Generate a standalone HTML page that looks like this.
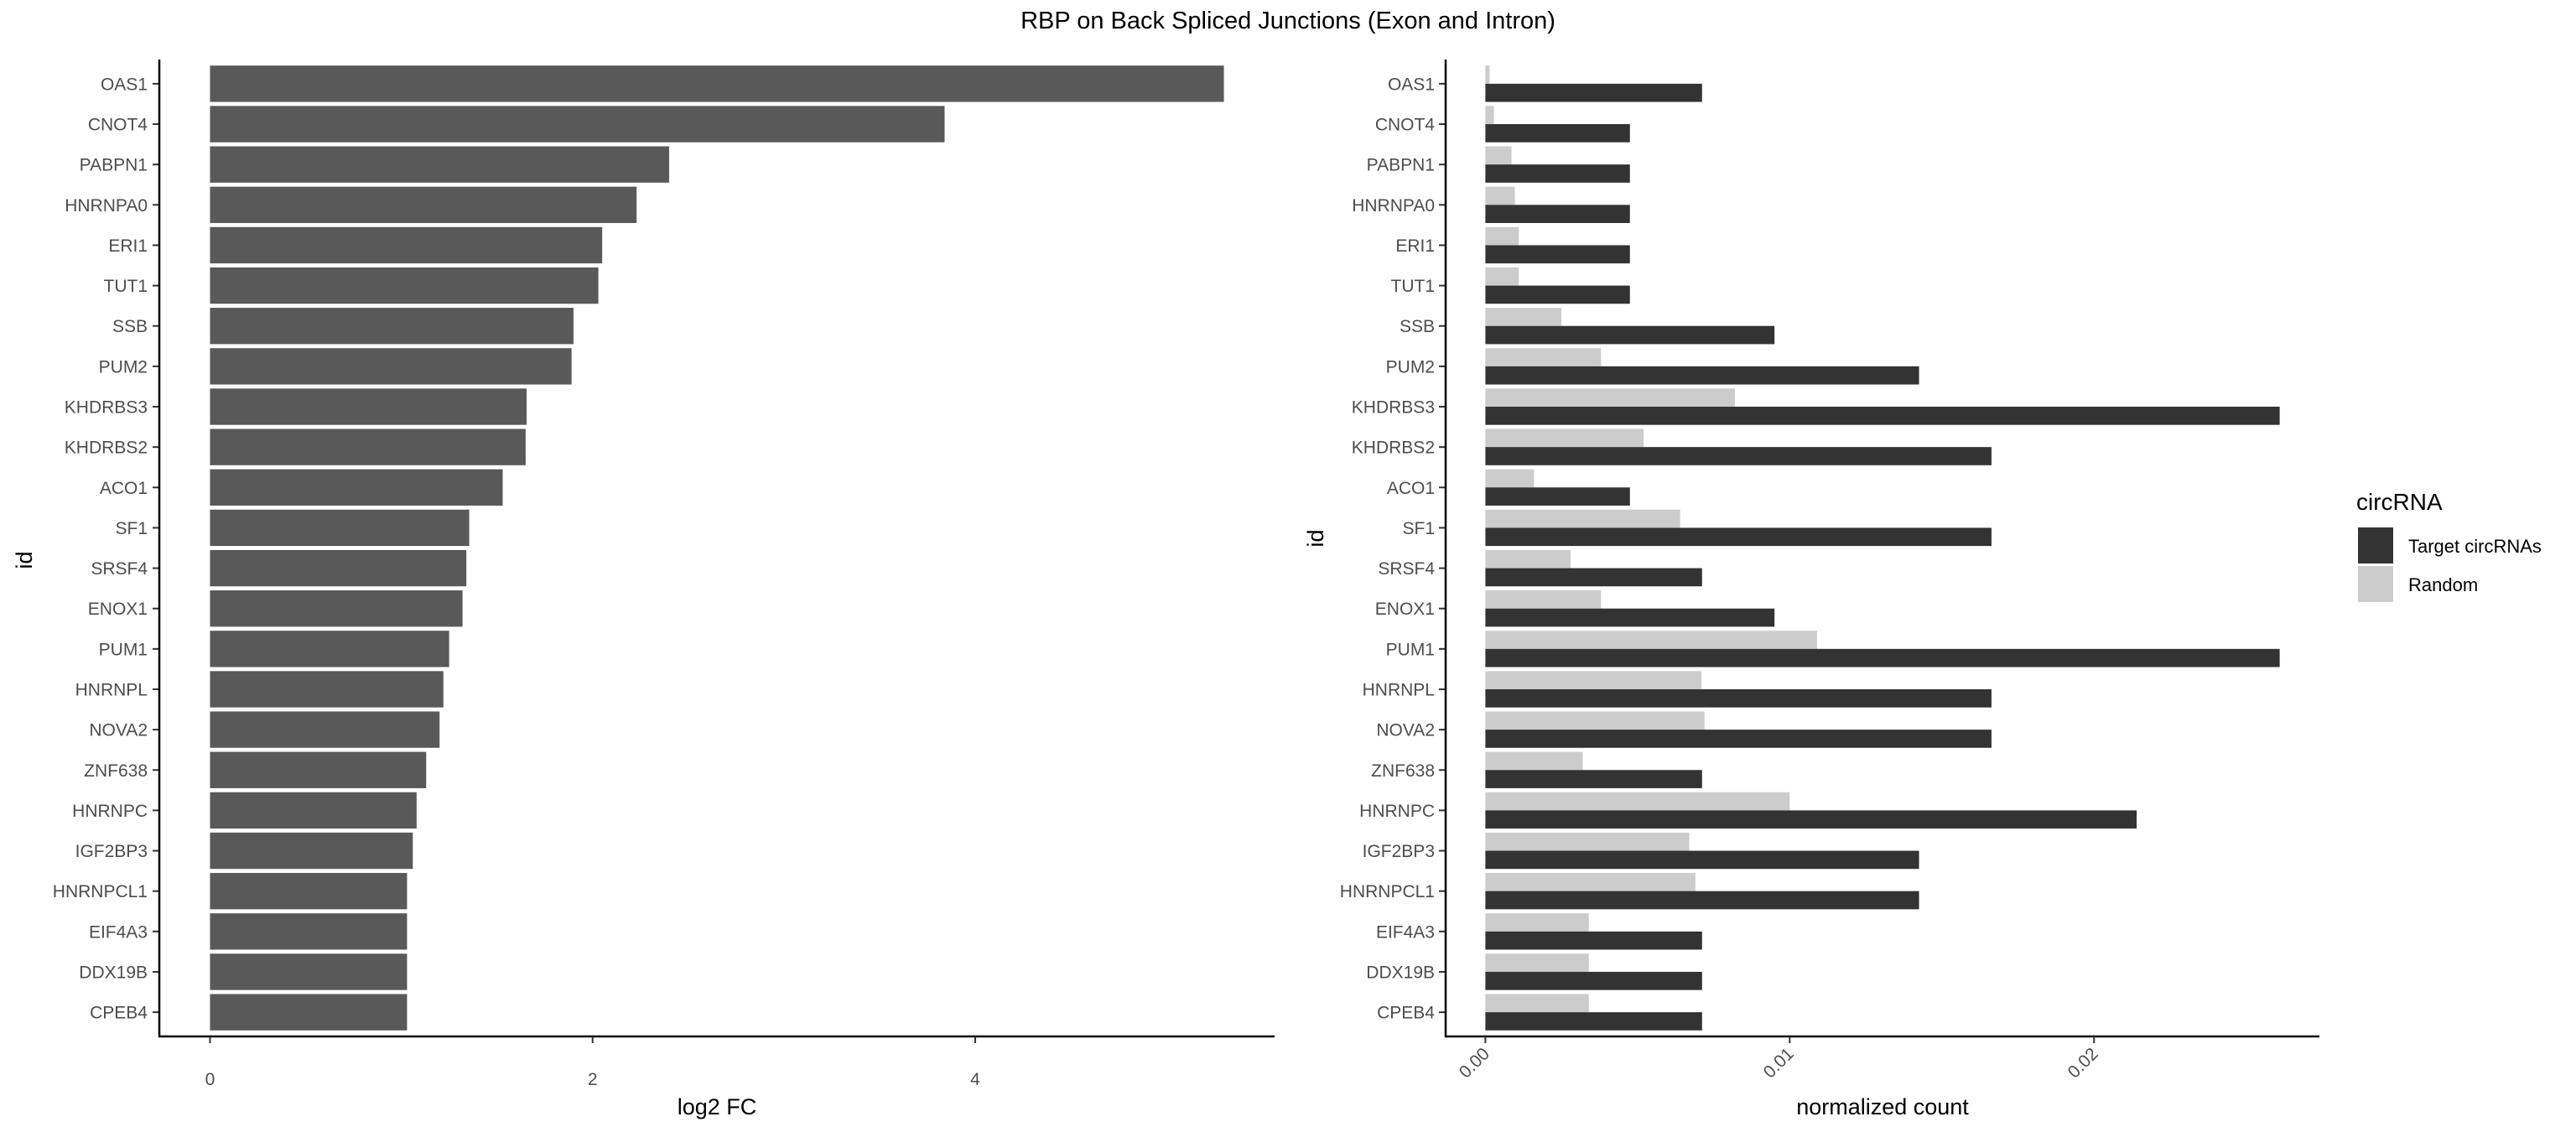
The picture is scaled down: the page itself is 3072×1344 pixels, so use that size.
<!DOCTYPE html>
<html><head><meta charset="utf-8"><style>
html,body{margin:0;padding:0;background:#fff}
svg{display:block;font-family:"Liberation Sans",sans-serif}
</style></head><body>
<svg id="chart" width="3072" height="1344" viewBox="0 0 3072 1344">
<text x="1536" y="34" text-anchor="middle" font-size="29" fill="#000">RBP on Back Spliced Junctions (Exon and Intron)</text>
<g id="left"></g>
<g id="right"></g>
<g>
<text x="2810" y="608" font-size="28" fill="#000">circRNA</text>
<rect x="2812" y="629" width="42" height="43" fill="#333333"/>
<text x="2872" y="659" font-size="22" fill="#000">Target circRNAs</text>
<rect x="2812" y="675" width="42" height="43" fill="#cccccc"/>
<text x="2872" y="705" font-size="22" fill="#000">Random</text>
</g>
</svg>
<script>
const categories=["OAS1","CNOT4","PABPN1","HNRNPA0","ERI1","TUT1","SSB","PUM2","KHDRBS3","KHDRBS2","ACO1","SF1","SRSF4","ENOX1","PUM1","HNRNPL","NOVA2","ZNF638","HNRNPC","IGF2BP3","HNRNPCL1","EIF4A3","DDX19B","CPEB4"];
const log2fc=[5.30,3.84,2.40,2.23,2.05,2.03,1.90,1.89,1.655,1.65,1.53,1.355,1.34,1.32,1.25,1.22,1.20,1.13,1.08,1.06,1.03,1.03,1.03,1.03];
const targetCount=[0.00712,0.00475,0.00475,0.00475,0.00475,0.00475,0.0095,0.01425,0.0261,0.01663,0.00475,0.01663,0.00712,0.0095,0.0261,0.01663,0.01663,0.00712,0.0214,0.01425,0.01425,0.00712,0.00712,0.00712];
const randomCount=[0.00014,0.00028,0.00086,0.00097,0.0011,0.0011,0.0025,0.0038,0.0082,0.0052,0.0016,0.0064,0.0028,0.0038,0.0109,0.0071,0.0072,0.0032,0.0100,0.0067,0.0069,0.0034,0.0034,0.0034];
const leftTicks=[0,2,4];
const rightTicks=[0,0.01,0.02];
const rightTickLabels=["0.00","0.01","0.02"];
const NS="http://www.w3.org/2000/svg";
function mk(parent,tag,attrs){const e=document.createElementNS(NS,tag);for(const k in attrs)e.setAttribute(k,attrs[k]);parent.appendChild(e);return e;}
const yTop=71,yBot=1236,n=categories.length;
const step=(yBot-yTop)/(n-1+1.2);
function yc(i){return yTop+0.6*step+i*step;}

// left panel
const L=document.getElementById('left');
const lx0=190,lx1=1520,lmax=Math.max(...log2fc)*1.1/1.0;
const lRange=Math.max(...log2fc);
function lx(v){return lx0+(lx1-lx0)*(v+0.05*lRange)/(1.1*lRange);}
categories.forEach((c,i)=>{
 const r=mk(L,'rect',{x:lx(0),y:yc(i)-0.45*step,width:lx(log2fc[i])-lx(0),height:0.9*step,fill:'#595959'});
 
 
 const t=mk(L,'text',{x:176,y:yc(i)+7.5,'text-anchor':'end','font-size':21,fill:'#4d4d4d'});
 t.textContent=c;
 
 
 mk(L,'line',{x1:182,x2:lx0,y1:yc(i),y2:yc(i),stroke:'#333','stroke-width':2});
});
mk(L,'line',{x1:lx0,x2:lx0,y1:yTop,y2:yBot+1,stroke:'#000','stroke-width':2.5});
mk(L,'line',{x1:lx0-1,x2:lx1,y1:yBot,y2:yBot,stroke:'#000','stroke-width':2.5});
leftTicks.forEach(v=>{
 mk(L,'line',{x1:lx(v),x2:lx(v),y1:yBot,y2:yBot+8,stroke:'#333','stroke-width':2});
 const t=mk(L,'text',{x:lx(v),y:1294,'text-anchor':'middle','font-size':21,fill:'#4d4d4d'});
 t.textContent=v;
 
 
});
{const t=mk(L,'text',{x:(lx0+lx1)/2,y:1329,'text-anchor':'middle','font-size':27,fill:'#000'});t.textContent='log2 FC';


const t2=mk(L,'text',{x:38,y:668,'text-anchor':'middle','font-size':27,fill:'#000',transform:'rotate(-90 38 668)'});t2.textContent='id';

}

// right panel
const R=document.getElementById('right');
const rx0=1724,rx1=2766,rRange=Math.max(...targetCount);
function rx(v){return rx0+(rx1-rx0)*(v+0.05*rRange)/(1.1*rRange);}
categories.forEach((c,i)=>{
 const h=0.45*step;
 const a=mk(R,'rect',{x:rx(0),y:yc(i)-h,width:rx(randomCount[i])-rx(0),height:h,fill:'#cccccc'});
 
 
 const b=mk(R,'rect',{x:rx(0),y:yc(i),width:rx(targetCount[i])-rx(0),height:h,fill:'#333333'});
 
 
 const t=mk(R,'text',{x:1711,y:yc(i)+7.5,'text-anchor':'end','font-size':21,fill:'#4d4d4d'});
 t.textContent=c;
 
 
 mk(R,'line',{x1:1716,x2:rx0,y1:yc(i),y2:yc(i),stroke:'#333','stroke-width':2});
});
mk(R,'line',{x1:rx0,x2:rx0,y1:yTop,y2:yBot+1,stroke:'#000','stroke-width':2.5});
mk(R,'line',{x1:rx0-1,x2:rx1,y1:yBot,y2:yBot,stroke:'#000','stroke-width':2.5});
rightTicks.forEach((v,k)=>{
 const x=rx(v);
 mk(R,'line',{x1:x,x2:x,y1:yBot,y2:yBot+8,stroke:'#333','stroke-width':2});
 const t=mk(R,'text',{x:x+6,y:yBot+22,'text-anchor':'end','font-size':21,fill:'#4d4d4d',transform:'rotate(-45 '+(x+6)+' '+(yBot+22)+')'});
 t.textContent=rightTickLabels[k];
 
 
});
{const t=mk(R,'text',{x:(rx0+rx1)/2,y:1329,'text-anchor':'middle','font-size':27,fill:'#000'});t.textContent='normalized count';


const t2=mk(R,'text',{x:1578,y:642,'text-anchor':'middle','font-size':27,fill:'#000',transform:'rotate(-90 1578 642)'});t2.textContent='id';

}
</script>
</body></html>
